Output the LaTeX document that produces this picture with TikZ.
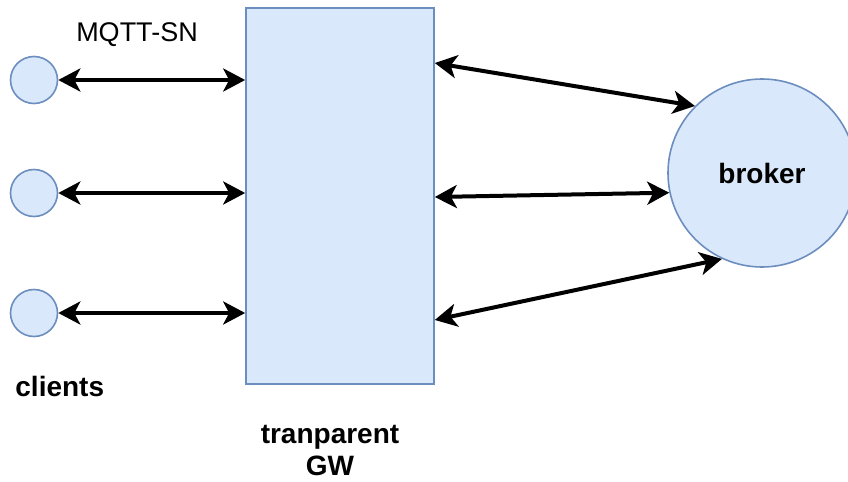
\documentclass[tikz,border=0pt]{standalone}
\usepackage{fontspec}
\setmainfont{Liberation Sans}
\usetikzlibrary{arrows.meta,positioning}
\definecolor{boxfill}{HTML}{DAE8FC}
\definecolor{boxline}{HTML}{6C8EBF}
\tikzset{
	client/.style={circle, draw=boxline, fill=boxfill, line width=0.8pt, minimum size=23.5pt, inner sep=0pt},
	gwbox/.style={rectangle, draw=boxline, fill=boxfill, line width=0.8pt, minimum width=94pt, minimum height=188pt},
	link/.style={{Stealth[length=11pt,width=11.5pt,inset=3pt]}-{Stealth[length=11pt,width=11.5pt,inset=3pt]}, line width=2pt},
	lbl/.style={font=\fontsize{14}{16}\selectfont\bfseries}
}

\begin{document}
\begin{tikzpicture}
		\useasboundingbox (0,0) rectangle (424pt,-241pt);
		% clients and gateway
		\node[client] (c1) at (17pt,-40pt) {};
		\node[client] (c2) at (17pt,-96.5pt) {};
		\node[client] (c3) at (17pt,-156.5pt) {};
		\node[gwbox] (gw) at (170pt,-98pt) {};
		\node[client, minimum size=94pt, lbl] (broker) at (381pt,-86.5pt) {broker};
		% labels
		\node[font=\fontsize{13.5}{16}\selectfont] (proto) at (68.5pt,-17.5pt) {MQTT-SN};
		\node[lbl, anchor=base west, inner sep=0pt] (cl) at (7.5pt,-198.3pt) {clients};
		\node[lbl, align=center, anchor=base, inner sep=0pt] (gwlbl) at (165pt,-237.5pt) {tranparent\\GW};
		% links
		\foreach \i in {1,2,3}
			\draw[link] (c\i) -- (c\i -| gw.west);
		\draw[link] ([yshift=66.5pt]gw.east) -- (broker.135);
		\draw[link] ([yshift=-0.5pt]gw.east) -- (broker.192);
		\draw[link] ([yshift=-62pt]gw.east) -- (broker.245);
	\end{tikzpicture}
\end{document}
